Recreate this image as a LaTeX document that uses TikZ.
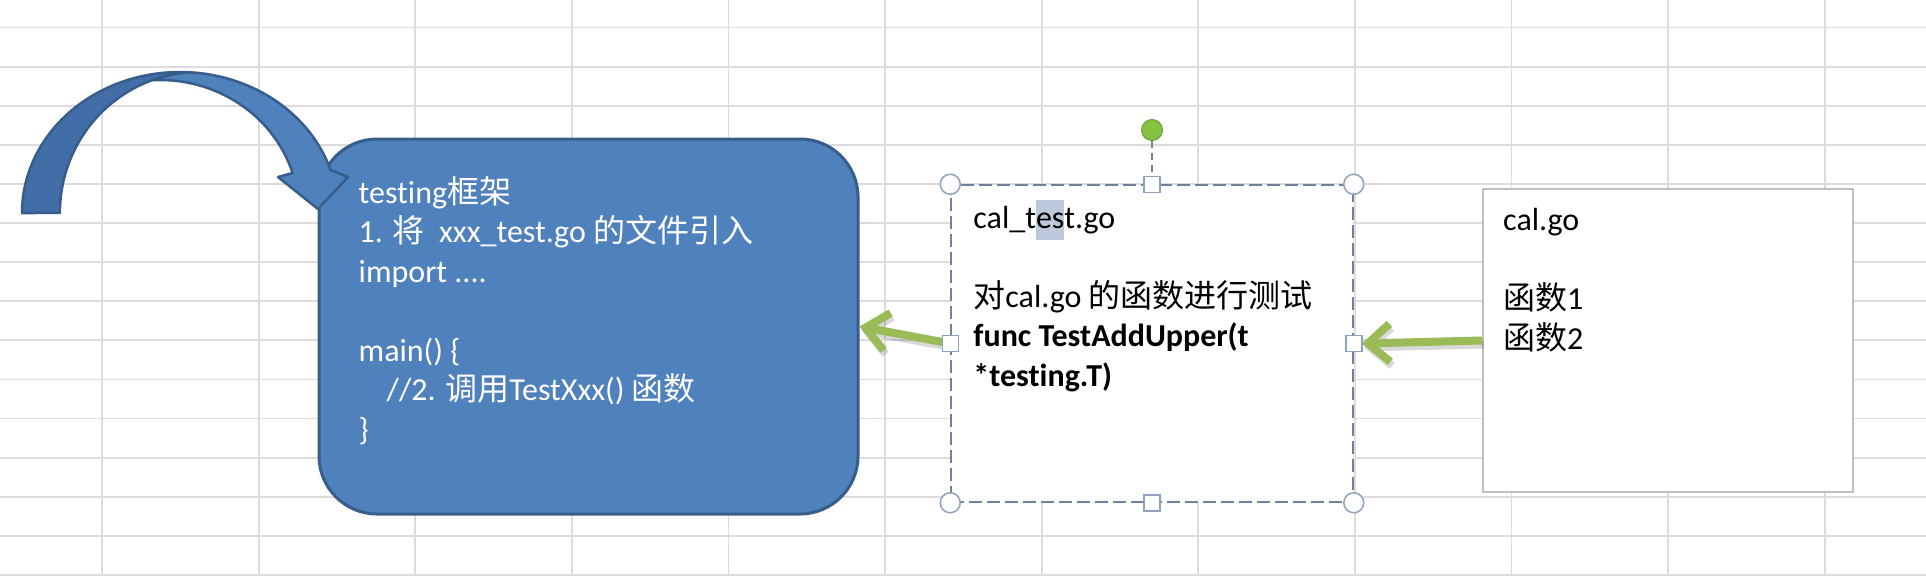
\documentclass[tikz,border=0pt]{standalone}
\usepackage{fontspec}
\setmainfont{Carlito}[Ligatures=NoCommon]
\newfontfamily\zhfont{Noto Sans CJK SC}
\newcommand\zh[1]{{\zhfont #1}}
\usetikzlibrary{positioning,arrows.meta}
\definecolor{gridgray}{HTML}{DCDCDC}
\definecolor{officeblue}{HTML}{4F81BD}
\definecolor{officebluedark}{HTML}{416EA7}
\definecolor{officeblueline}{HTML}{385D8A}
\definecolor{arrowgreen}{HTML}{9BBB59}
\definecolor{frameline}{HTML}{6F819D}
\definecolor{handleline}{HTML}{8EA1BD}
\definecolor{rotgreen}{HTML}{88C241}
\definecolor{rotgreenline}{HTML}{6E9E3A}
\definecolor{selblue}{HTML}{BCC9DC}
\definecolor{boxgray}{HTML}{BFBFBF}
\tikzset{
  gridline/.style={draw=gridgray, line width=1.8pt},
  fwbox/.style={rectangle, rounded corners=58pt, fill=officeblue, draw=officeblueline, line width=3pt},
  selbox/.style={rectangle, fill=white, draw=frameline, line width=1.5pt, dash pattern=on 13pt off 5pt},
  plainbox/.style={rectangle, fill=white, draw=boxgray, line width=2pt},
  fwtext/.style={text=white, align=left, inner sep=0pt},
  filetext/.style={text=black, align=left, inner sep=0pt},
  bendarrow/.style={draw=officeblueline, line width=2.5pt, line join=round},
  greenarrow/.style={draw=arrowgreen, line width=8pt, -{Straight Barb[length=22pt,width=38pt]}},
  greenshadow/.style={greenarrow, draw=black, opacity=0.15, transform canvas={shift={(2pt,-4pt)}}},
  cornerhandle/.style={circle, draw=handleline, fill=white, line width=1.5pt, minimum size=20pt, inner sep=0pt},
  sidehandle/.style={rectangle, draw=handleline, fill=white, line width=1.5pt, minimum size=16pt, inner sep=0pt},
  rothandle/.style={circle, fill=rotgreen, draw=rotgreenline, line width=1pt, minimum size=21pt, inner sep=0pt},
  rotlink/.style={draw=frameline, line width=1.5pt, dash pattern=on 7pt off 5pt}
}
\begin{document}
\begin{tikzpicture}[x=1pt, y=-1pt, font=\fontsize{32}{39.5}\selectfont]
  \fill[white] (0,0) rectangle (1926,576);
  \useasboundingbox (0,0) rectangle (1926,576);
  \foreach \r in {0,...,14}
    \draw[gridline] (0,{27.5+39.1*\r}) -- (1926,{27.5+39.1*\r});
  \foreach \c in {0,...,11}
    \draw[gridline] ({102+156.6*\c},0) -- ({102+156.6*\c},576);

  \node[fwbox, minimum width=539pt, minimum height=375pt] (framework) at (588.5,326.5) {};
  \node[fwtext, below right=38pt and 41pt of framework.north west] (fwlines)
    {\strut testing\zh{框架}\\1. \zh{将}\ \ xxx\_test.go \zh{的文件引入}\\import ....\\ \\main() \{\\\hspace*{28pt}//2. \zh{调用}TestXxx() \zh{函数}\\\}};

  % curved arrow, back face then front face
  \filldraw[bendarrow, fill=officebluedark] (22,213)
    arc[start angle=180, end angle=86.4, x radius=158pt, y radius=141pt]
    arc[start angle=93.7, end angle=180, x radius=139pt, y radius=141pt] -- cycle;
  \filldraw[bendarrow, fill=officeblue] (190,72.3)
    arc[start angle=86.4, end angle=17.76, x radius=158pt, y radius=141pt]
    -- (348,177) -- (318,209) -- (278,177) -- (292.6,173)
    arc[start angle=17.5, end angle=93.1, x radius=139pt, y radius=133pt]
    arc[start angle=109.5, end angle=93.7, x radius=139pt, y radius=141pt] -- cycle;

  \node[selbox, minimum width=402pt, minimum height=317pt] (testfile) at (1152,343.5) {};
  \node[filetext, below right=16pt and 23pt of testfile.north west] (testlines)
    {cal\_t{\setlength\fboxsep{0pt}\colorbox{selblue}{\strut es}}t.go\\ \\\zh{对}cal.go \zh{的函数进行测试}\\\textbf{func TestAddUpper(t}\\\textbf{*testing.T)}};

  \node[plainbox, minimum width=370pt, minimum height=303pt] (srcfile) at (1668,340.5) {};
  \node[filetext, below right=15pt and 21pt of srcfile.north west] (srclines)
    {\strut cal.go\\ \\\zh{函数}1\\\zh{函数}2};

  \draw[greenshadow] (srcfile.west) -- ([xshift=8pt]testfile.east);
  \draw[greenarrow] (srcfile.west) -- ([xshift=8pt]testfile.east);
  \draw[greenshadow] (testfile.west) -- (framework.east);
  \draw[greenarrow] (testfile.west) -- (framework.east);

  \foreach \a in {north west,north east,south west,south east}
    \node[cornerhandle] (h-\a) at (testfile.\a) {};
  \foreach \a in {north,south,east,west}
    \node[sidehandle] (h-\a) at (testfile.\a) {};
  \node[rothandle, above=34.5pt of h-north] (rot) {};
  \draw[rotlink] (rot) -- (h-north);
\end{tikzpicture}
\end{document}
